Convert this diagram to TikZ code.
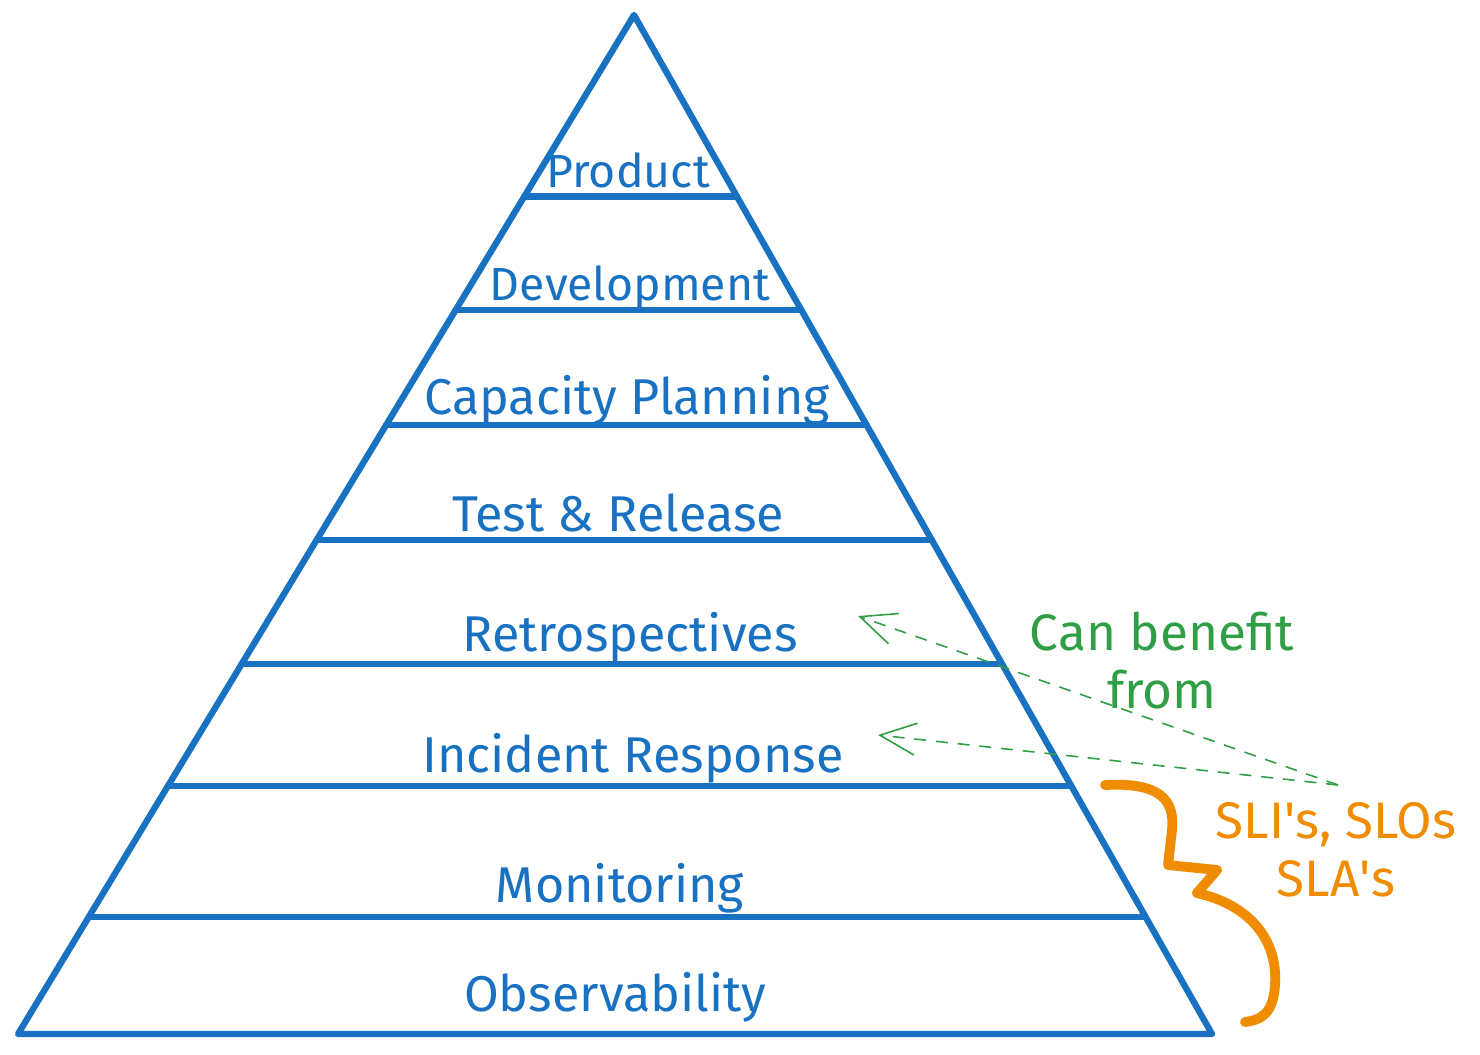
\documentclass[tikz,border=0pt]{standalone}
\usepackage{fontspec}
\setmainfont{Fira Sans}
\usepackage{xcolor}
\usetikzlibrary{arrows.meta,calc}

\definecolor{pyrblue}{HTML}{1971C2}
\definecolor{notegreen}{HTML}{2F9E44}
\definecolor{noteorange}{HTML}{F08C00}

\tikzset{
  layer/.style={pyrblue,line width=1.8pt,line cap=round},
  layerlabel/.style={pyrblue,font=\fontsize{14.3}{16}\selectfont,inner sep=0pt},
  toplabel/.style={layerlabel,font=\fontsize{13.2}{15}\selectfont},
  hint/.style={notegreen,line width=0.45pt,dash pattern=on 3.4pt off 2.8pt,
    -{Straight Barb[length=3.6mm,width=3.2mm,line width=0.45pt]}},
  notetext/.style={font=\fontsize{14.6}{16.5}\selectfont,inner sep=0pt,align=center},
}

\begin{document}
\begin{tikzpicture}[x=0.01cm,y=-0.01cm]
\useasboundingbox (0,0) rectangle (1480,1054);

% Pyramid outline
\coordinate (apex) at (634,15);
\coordinate (bl) at (18,1034);
\coordinate (br) at (1212,1034);
\draw[layer,line join=round] (apex) -- (bl) -- (br) -- cycle;

% Layer separators
\foreach \t in {0.822,0.7105,0.5976,0.4848,0.3631,0.2434,0.1148}
  \draw[layer] ($(bl)!\t!(apex)$) -- ($(br)!\t!(apex)$);

% Layer labels
\node[toplabel] (product) at (628,170) {Product};
\node[toplabel] (development) at (630,288) {Development};
\node[layerlabel] (capacity) at (627,400) {Capacity Planning};
\node[layerlabel] (testrelease) at (618,513) {Test \& Release};
\node[layerlabel] (retro) at (630,637) {Retrospectives};
\node[layerlabel] (incident) at (633,758) {Incident Response};
\node[layerlabel] (monitoring) at (620,888) {Monitoring};
\node[layerlabel] (observability) at (615,997) {Observability};

% Notes
\node[notetext,notegreen] (benefit) at (1162,661) {Can benefit\\from};
\node[notetext,noteorange] (slis) at (1336,850)
  {SLI\textquotesingle s, SLOs\\SLA\textquotesingle s};

% Dashed hints
\coordinate (src) at (1338,785);
\coordinate (retrotip) at (858,616);
\coordinate (incidenttip) at (878,735);
\draw[hint] (src) -- (retrotip);
\draw[hint] (src) -- (incidenttip);

% Orange squiggle brace
\draw[noteorange,line width=2.8pt,line cap=round,line join=round]
  (1105,785) .. controls (1160,782) and (1175,800) .. (1172,830)
  -- (1168,865) -- (1217,870) -- (1197,893)
  .. controls (1250,905) and (1278,940) .. (1275,985)
  .. controls (1273,1015) and (1260,1020) .. (1245,1022);

\end{tikzpicture}
\end{document}
